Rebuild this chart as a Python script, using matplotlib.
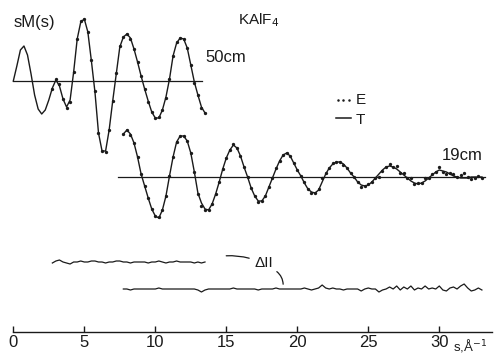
import matplotlib
matplotlib.use("Agg")
import matplotlib.pyplot as plt
import numpy as np

plt.rcParams['font.family'] = ['Liberation Sans', 'DejaVu Sans']

STEP = 0.25

# 50 cm camera distance
s50_t_start = 0.0
sm50_theory = [0, 15, 31, 35, 26, 7, -14, -28, -33, -29, -19, -7, 1, -5, -18,
               -26, -19, 9, 42, 59, 62, 49, 20, -11, -52, -70, -70, -49, -20,
               7, 34, 44, 47, 43, 32, 19, 5, -8, -20, -31, -37, -37, -29, -16,
               2, 25, 38, 43, 42, 33, 16, -1, -14, -26, -32]
s50_e_start = 2.75
sm50_exp = [-8, 2, -3, -18, -27, -21, 9, 42, 60, 62, 49, 21, -10, -52, -70,
            -71, -49, -20, 8, 35, 44, 47, 42, 32, 19, 5, -8, -21, -31, -37,
            -36, -29, -17, 2, 25, 39, 43, 42, 33, 16, -2, -14, -27, -32]

# 19 cm camera distance
s19_start = 7.75
sm19_theory = [43, 47, 43, 34, 20, 3, -9, -21, -32, -39, -41, -33, -19, 1, 20,
               35, 41, 41, 36, 24, 5, -16, -26, -32, -33, -27, -17, -5, 8, 19,
               27, 32, 29, 21, 10, 0, -11, -19, -24, -24, -19, -10, -1, 8, 16,
               22, 24, 21, 14, 7, 1, -6, -12, -15, -16, -13, -5, 3, 9, 13, 15,
               15, 13, 9, 4, 0, -5, -8, -9, -8, -5, -1, 3, 7, 10, 11, 10, 8, 5,
               2, -1, -4, -6, -7, -6, -4, -1, 2, 5, 7, 6, 5, 3, 1, 0, -1, -1,
               -1, 0, 0, 0, 0]
sm19_exp = [43, 47, 42, 34, 20, 3, -9, -21, -32, -39, -40, -33, -19, 1, 20,
            35, 41, 41, 36, 24, 5, -17, -29, -33, -33, -27, -17, -5, 8, 19,
            27, 33, 29, 21, 10, 0, -11, -19, -25, -24, -19, -10, -1, 9, 16,
            22, 24, 21, 14, 7, 1, -5, -12, -16, -16, -12, -1, 4, 9, 14, 15,
            15, 12, 9, 4, 0, -5, -10, -9, -7, -5, -1, 0, 6, 10, 13, 10, 11, 4,
            4, -1, -1, -7, -6, -6, -1, -1, 3, 5, 10, 5, 3, 4, 3, 0, 2, 4,
            0, -2, -1, 1, -1]

# vertical offsets of the traces (same units)
OFF_50 = -81
OFF_19 = -177
OFF_D50 = -262
OFF_D19 = -289

s50_t = s50_t_start + STEP * np.arange(len(sm50_theory))
s50_e = s50_e_start + STEP * np.arange(len(sm50_exp))
s19 = s19_start + STEP * np.arange(len(sm19_theory))
sm50_t = np.array(sm50_theory, dtype=float)
sm50_e = np.array(sm50_exp, dtype=float)
sm19_t = np.array(sm19_theory, dtype=float)
sm19_e = np.array(sm19_exp, dtype=float)

# residual E - T
i0 = int(round((s50_e_start - s50_t_start) / STEP))
d50 = sm50_e - sm50_t[i0:i0 + len(sm50_e)]
d19 = sm19_e - sm19_t

INK = '#1a1a1a'

fig = plt.figure(figsize=(5.02, 3.57), dpi=100)
ax = fig.add_axes([0, 25 / 357, 1, 332 / 357])
ax.set_xlim(-13.3 / 14.2, (502 - 13.3) / 14.2)
ax.set_ylim(-332, 0)

# baselines
ax.plot([0, 13.3], [OFF_50, OFF_50], color=INK, lw=0.9)
ax.plot([7.4, 33.2], [OFF_19, OFF_19], color=INK, lw=0.9)

# theory lines
ax.plot(s50_t, sm50_t + OFF_50, color=INK, lw=1.0, solid_joinstyle='round')
ax.plot(s19, sm19_t + OFF_19, color=INK, lw=1.0, solid_joinstyle='round')

# experimental points
ax.plot(s50_e, sm50_e + OFF_50, 'o', color=INK, ms=2.4, mew=0)
ax.plot(s19, sm19_e + OFF_19, 'o', color=INK, ms=2.4, mew=0)

# residual curves
ax.plot(s50_e, d50 + OFF_D50, color=INK, lw=0.9)
ax.plot(s19, d19 + OFF_D19, color=INK, lw=0.9)

# labels
ax.text(0.0, -23, 'sM(s)', fontsize=12, ha='left', va='center', color=INK)
ax.text(15.8, -20, 'KAlF$_4$', fontsize=11, ha='left', va='center', color=INK)
ax.text(13.5, -58, '50cm', fontsize=12, ha='left', va='center', color=INK)
ax.text(30.2, -156, '19cm', fontsize=12, ha='left', va='center', color=INK)

# legend
ax.plot([22.85, 23.25, 23.65], [-100, -100, -100], 'o', color=INK, ms=1.8, mew=0)
ax.text(24.1, -100, 'E', fontsize=11, ha='left', va='center', color=INK)
ax.plot([22.75, 23.75], [-118, -118], color=INK, lw=1.1)
ax.text(24.1, -120, 'T', fontsize=11, ha='left', va='center', color=INK)

# delta I label with leaders
ax.text(17.0, -263, 'ΔII', fontsize=11, ha='left', va='center', color=INK)
ax.annotate('', xy=(14.8, -256), xytext=(16.8, -259),
            arrowprops=dict(arrowstyle='-', color=INK, lw=0.9,
                            connectionstyle='arc3,rad=0.1'))
ax.annotate('', xy=(19.0, -287), xytext=(18.4, -270),
            arrowprops=dict(arrowstyle='-', color=INK, lw=0.9,
                            connectionstyle='arc3,rad=-0.3'))

# x axis
for side in ['top', 'left', 'right']:
    ax.spines[side].set_visible(False)
ax.spines['bottom'].set_bounds(0, 33.7)
ax.spines['bottom'].set_color(INK)
ax.spines['bottom'].set_linewidth(1.0)
ax.set_xticks([0, 5, 10, 15, 20, 25, 30])
ax.tick_params(axis='x', direction='in', length=4, width=1.0, colors=INK,
               labelsize=12, pad=2)
ax.set_yticks([])
ax.text(31.0, -346, 's,Å$^{-1}$', fontsize=9.5, ha='left', va='center',
        color=INK, clip_on=False)

fig.savefig('out.png', dpi=100)
